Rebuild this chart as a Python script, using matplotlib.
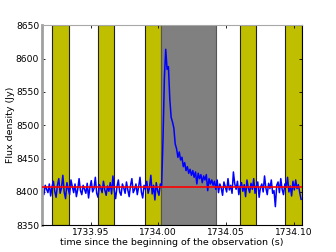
import numpy as np
import matplotlib
matplotlib.use("Agg")
import matplotlib.pyplot as plt

# --- data ---
t0 = 1733.9145
dt = 0.001
flux = [
    # baseline before burst
    8402, 8396, 8410, 8404, 8399, 8412, 8394, 8408, 8416, 8401,
    8392, 8410, 8420, 8398, 8406, 8425, 8400, 8390, 8414, 8404,
    8396, 8418, 8408, 8399, 8412, 8393, 8404, 8420, 8402, 8396,
    8410, 8404, 8398, 8413, 8391, 8407, 8417, 8400, 8405, 8422,
    8398, 8392, 8411, 8406, 8399, 8416, 8403, 8395, 8409, 8401,
    8414, 8397, 8424, 8402, 8390, 8408, 8418, 8400, 8395, 8412,
    8406, 8398, 8415, 8403, 8393, 8410, 8420, 8399, 8404, 8412,
    8396, 8408, 8422, 8400, 8391, 8410, 8404, 8416, 8398, 8406,
    8425, 8397, 8410, 8388, 8414, 8402, 8395, 8412,
    # burst and decay
    8410, 8480, 8570, 8614, 8584, 8588, 8540, 8512, 8505, 8496,
    8472, 8465, 8452, 8460, 8448, 8452, 8438, 8444, 8432, 8438,
    8428, 8434, 8425, 8432, 8422, 8430, 8412, 8428, 8420, 8426,
    8414, 8424, 8418, 8426, 8402, 8420, 8412, 8418, 8410, 8416,
    # baseline after burst
    8404, 8418, 8399, 8412, 8406, 8395, 8415, 8408, 8400, 8420,
    8403, 8410, 8398, 8430, 8412, 8404, 8416, 8396, 8409, 8414,
    8401, 8411, 8393, 8418, 8406, 8399, 8413, 8404, 8420, 8398,
    8409, 8415, 8392, 8407, 8412, 8400, 8424, 8406, 8396, 8413,
    8405, 8418, 8398, 8402, 8378, 8410, 8415, 8399, 8420, 8404,
    8396, 8412, 8407, 8422, 8400, 8409, 8394, 8416, 8403, 8418,
    8405, 8411, 8399, 8389,
]
time = t0 + dt * np.arange(len(flux))

baseline_x = [1733.9141, 1734.1064]
baseline_y = [8407, 8407]

yellow_starts = [1733.9215, 1733.9557, 1733.9904, 1734.0603, 1734.0936]
yellow_ends = [1733.9341, 1733.9673, 1734.0022, 1734.0722, 1734.1061]
gray_start, gray_end = 1734.0022, 1734.0426

xlim = (1733.9141, 1734.1064)
ylim = (8350, 8650)
yticks = [8350, 8400, 8450, 8500, 8550, 8600, 8650]
xticks = [1733.95, 1734.00, 1734.05, 1734.10]
xticklabels = ["1733.95", "1734.00", "1734.05", "1734.10"]

# --- figure ---
fig = plt.figure(figsize=(3.36, 2.52), dpi=100)
ax = fig.add_axes([42 / 336, 1 - 225.3 / 252, (302.3 - 42) / 336, (225.3 - 25.3) / 252])

for s, e in zip(yellow_starts, yellow_ends):
    ax.axvspan(s, e, facecolor="#bfbf00", edgecolor="#222222", lw=0.8, zorder=1)
ax.axvspan(gray_start, gray_end, facecolor="#808080", edgecolor="#555555", lw=0.8, zorder=1)

ax.plot(time, flux, color="#0000ff", lw=1.1, zorder=2)
ax.plot(baseline_x, baseline_y, color="#ff0000", lw=1.2, zorder=3)

ax.set_xlim(*xlim)
ax.set_ylim(*ylim)
ax.set_yticks(yticks)
ax.set_xticks(xticks)
ax.set_xticklabels(xticklabels)
ax.ticklabel_format(axis="y", useOffset=False, style="plain")

fs = 6.6
ax.tick_params(axis="both", labelsize=fs, direction="in", length=2.5, width=0.6,
               top=True, right=True, pad=2)
ax.tick_params(axis="y", which="major", left=True, direction="in")

ax.spines["left"].set_color("#a0a0a0")
ax.spines["left"].set_linewidth(2.0)
ax.spines["top"].set_color("#a8a8a8")
ax.spines["top"].set_linewidth(0.8)
ax.spines["bottom"].set_color("black")
ax.spines["bottom"].set_linewidth(0.8)
ax.spines["right"].set_color("black")
ax.spines["right"].set_linewidth(0.8)

ax.set_xlabel("time since the beginning of the observation (s)", fontsize=6.8, labelpad=1)
ax.set_ylabel("Flux density (Jy)", fontsize=6.8, labelpad=0.5)

fig.savefig("out.png", dpi=100)
